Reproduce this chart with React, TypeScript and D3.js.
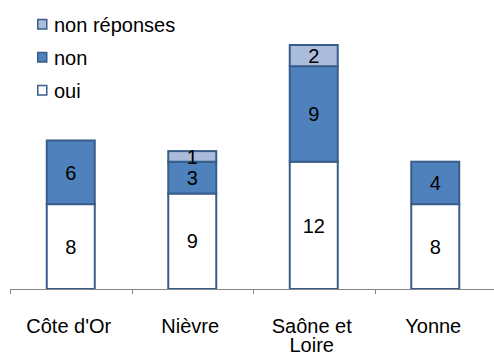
import React from "react";
import * as d3 from "d3";

const categories = ["Côte d'Or", "Nièvre", "Saône et\nLoire", "Yonne"];
const oui = [8, 9, 12, 8];
const non = [6, 3, 9, 4];
const nonReponses = [0, 1, 2, 0];

const seriesKeys = ["oui", "non", "nonReponses"];
const seriesLabels: Record<string, string> = {
  oui: "oui",
  non: "non",
  nonReponses: "non réponses",
};
const seriesFill: Record<string, string> = {
  oui: "#ffffff",
  non: "#4f81bd",
  nonReponses: "#aabbdb",
};

const W = 494;
const H = 356;
const font = "Liberation Sans, Arial, sans-serif";
const FS = 20;

export default function App() {
  const rows = categories.map((c, i) => ({
    cat: c,
    oui: oui[i],
    non: non[i],
    nonReponses: nonReponses[i],
  }));
  const stacked = d3.stack<any>().keys(seriesKeys)(rows);

  const x = d3.scaleBand().domain(categories).range([10, 496]).paddingInner(0).paddingOuter(0);
  const y = d3.scaleLinear().domain([0, 23]).range([289, 45]);
  const barW = 48;

  const legendOrder = ["nonReponses", "non", "oui"];

  return (
    <svg
      width={W}
      height={H}
      style={{ position: "absolute", left: 0, top: 0, background: "#fff" }}
      fontFamily={font}
    >
      {stacked.map((layer) =>
        layer.map((d, i) => {
          const v = d[1] - d[0];
          if (v <= 0) return null;
          const cx = (x(categories[i]) as number) + x.bandwidth() / 2;
          const y0 = y(d[0]);
          const y1 = y(d[1]);
          return (
            <g key={layer.key + i}>
              <rect
                x={cx - barW / 2}
                y={y1}
                width={barW}
                height={y0 - y1}
                fill={seriesFill[layer.key]}
                stroke="#385d8a"
                strokeWidth={2}
              />
              <text
                x={cx}
                y={(y0 + y1) / 2 + FS * 0.36}
                textAnchor="middle"
                fontSize={FS}
                fill="#000"
              >
                {v}
              </text>
            </g>
          );
        })
      )}

      {/* category axis */}
      <line x1={10} x2={496} y1={289.5} y2={289.5} stroke="#868686" strokeWidth={1} />
      {categories.map((c, i) => {
        const tx = Math.round(x(c) as number) + 0.5;
        return <line key={"t" + i} x1={tx} x2={tx} y1={289} y2={294} stroke="#868686" />;
      })}
      {categories.map((c, i) => {
        const cx = (x(c) as number) + x.bandwidth() / 2 - 2;
        const lines = c.split("\n");
        return (
          <text key={"l" + i} x={cx} textAnchor="middle" fontSize={FS} fill="#000">
            {lines.map((ln, j) => (
              <tspan key={j} x={cx} y={333 + j * 19}>
                {ln}
              </tspan>
            ))}
          </text>
        );
      })}

      {/* legend */}
      {legendOrder.map((k, i) => {
        const base = 32 + i * 33;
        return (
          <g key={k}>
            <rect
              x={37.75}
              y={base - 12.5}
              width={9}
              height={9.5}
              fill={seriesFill[k]}
              stroke="#385d8a"
              strokeWidth={1.5}
            />
            <text x={54} y={base} fontSize={FS} fill="#000">
              {seriesLabels[k]}
            </text>
          </g>
        );
      })}
    </svg>
  );
}
